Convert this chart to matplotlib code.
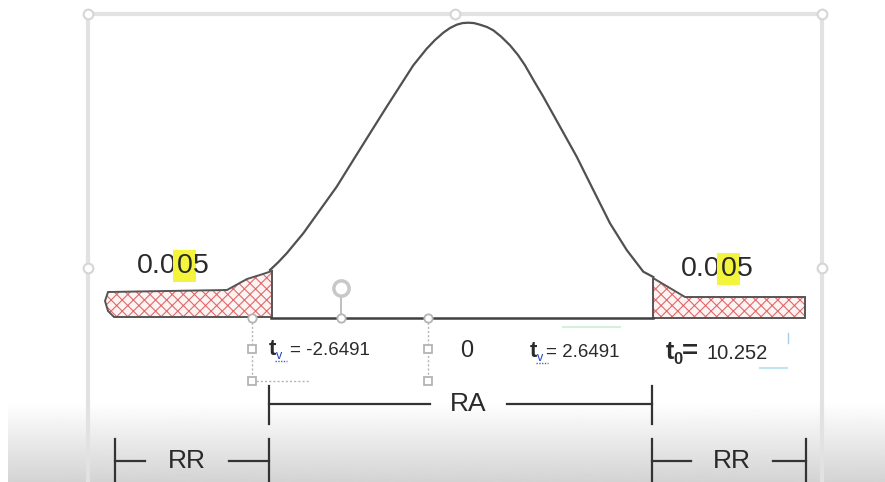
import numpy as np
import matplotlib
matplotlib.use("Agg")
import matplotlib.pyplot as plt
from matplotlib.patches import Polygon

plt.rcParams["hatch.linewidth"] = 0.8

# ---------------- data (diagram units = pixels of the 885x482 canvas) ----------------
curve_x = [270.0, 278.0, 286.7, 303.3, 320.0, 336.7, 353.3, 370.0, 386.7, 400.0,
           413.3, 426.7, 435.0, 443.3, 450.0, 456.7, 462.5, 468.3, 474.0, 480.0,
           487.0, 493.3, 501.0, 510.0, 518.0, 525.0, 534.0, 543.3, 560.0, 576.7,
           593.3, 610.0, 626.7, 643.3, 653.3]
curve_y = [270.0, 262.5, 253.3, 233.3, 210.0, 186.7, 160.0, 133.3, 106.7, 86.0,
           65.3, 48.7, 40.0, 32.7, 28.0, 24.7, 23.1, 22.7, 23.1, 24.7,
           27.0, 30.3, 36.5, 45.3, 55.0, 65.3, 81.0, 96.7, 126.7, 156.7,
           190.0, 223.3, 250.0, 271.7, 277.0]
base_y = 318
base_x = [271, 653]

left_tail_x = [272, 263, 247, 227, 108, 105, 108, 114, 272]
left_tail_y = [271, 274, 279, 290, 292, 301, 311, 317, 317]
right_tail_x = [653, 685, 805, 805, 653]
right_tail_y = [278, 297, 297, 318, 318]

alpha_label = ["0.0", "0", "5"]          # "0.005" with the second zero highlighted
alpha_pos = [(137, 273), (681, 276)]

t_crit_left = "= -2.6491"
t_crit_right = "= 2.6491"
center_label = "0"
t0_value = "10.252"

ra_range = [269, 652]
rr_left = [115, 269]
rr_right = [652, 806]

# ---------------- figure ----------------
fig = plt.figure(figsize=(8.85, 4.82), dpi=100)
ax = fig.add_axes([0, 0, 1, 1])
ax.set_xlim(0, 885)
ax.set_ylim(482, 0)
ax.axis("off")

FONT = "Liberation Sans"
DARK = "#2a2a2a"

# bottom gray gradient
grad = np.linspace(1.0, 0.83, 64).reshape(-1, 1)
ax.imshow(grad, cmap="gray", vmin=0, vmax=1, extent=(8, 885, 482, 402),
          aspect="auto", zorder=0)

# selection frame of the slide object
fcol = "#e2e2e2"
ax.plot([88, 88], [14, 482], color=fcol, lw=3, zorder=1)
ax.plot([822, 822], [14, 482], color=fcol, lw=3, zorder=1)
ax.plot([88, 822], [14, 14], color=fcol, lw=3, zorder=1)
ax.plot([88, 455, 822, 88, 822], [14, 14, 14, 268, 268], ls="none", marker="o",
        ms=7, mfc="white", mec="#d6d6d6", mew=1.5, zorder=2)

# tails (hatched)
for xs, ys in [(left_tail_x, left_tail_y), (right_tail_x, right_tail_y)]:
    pts = np.column_stack([xs, ys])
    ax.add_patch(Polygon(pts, closed=True, facecolor="#fdf3f3", edgecolor="#e06a6a",
                         hatch="xxx", lw=0, zorder=3))
    ax.add_patch(Polygon(pts, closed=True, facecolor="none", edgecolor="#555555",
                         lw=1.4, zorder=4))

# bell curve and baseline
ax.plot(curve_x, curve_y, color="#505050", lw=1.6, solid_joinstyle="round", zorder=5)
ax.plot(base_x, [base_y, base_y], color="#404040", lw=1.8, zorder=5)

# alpha labels with yellow highlight on one digit
for (x0, y0) in alpha_pos:
    t1 = ax.text(x0, y0, alpha_label[0], fontsize=20.5, family=FONT, color=DARK,
                 va="baseline", ha="left", zorder=6)
    t2 = ax.annotate(alpha_label[1], xy=(1, 0), xycoords=t1, va="bottom", ha="left",
                     fontsize=20.5, family=FONT, color=DARK, zorder=6,
                     bbox=dict(boxstyle="square,pad=0.12", fc="#f4f43c", ec="none"))
    ax.annotate(alpha_label[2], xy=(1, 0), xycoords=t2, va="bottom", ha="left",
                fontsize=20.5, family=FONT, color=DARK, zorder=6)

# text-box handles (left box)
hcol = "#b4b4b4"
ax.plot([252, 252], [318, 381], color=hcol, lw=1, ls=(0, (1.5, 1.5)), zorder=5)
ax.plot([428, 428], [318, 381], color=hcol, lw=1, ls=(0, (1.5, 1.5)), zorder=5)
ax.plot([252, 310], [381, 381], color=hcol, lw=1, ls=(0, (1.5, 1.5)), zorder=5)
ax.plot([252, 428, 341], [318, 318, 318], ls="none", marker="o", ms=6, mfc="white",
        mec=hcol, mew=1.3, zorder=6)
ax.plot([252, 428, 252, 428], [349, 349, 381, 381], ls="none", marker="s", ms=5.5,
        mfc="white", mec=hcol, mew=1.3, zorder=6)
ax.plot([341, 341], [296, 318], color=hcol, lw=1.2, zorder=5)
ax.plot([341], [288], marker="o", ms=11, mfc="white", mec="#c8c8c8", mew=2.5, zorder=6)

# t labels
ax.text(269, 355, "t", fontsize=16, family=FONT, weight="bold", color=DARK, va="baseline")
ax.text(276, 359, "v", fontsize=9, family=FONT, color="#2040c0", va="baseline")
ax.plot([275, 287], [361, 361], color="#4060d0", lw=1, ls=(0, (1, 1)))
ax.text(290, 355, t_crit_left, fontsize=13.5, family=FONT, color=DARK, va="baseline")

ax.text(460, 357, center_label, fontsize=17, family=FONT, color=DARK, va="baseline")

ax.text(530, 357, "t", fontsize=16, family=FONT, weight="bold", color=DARK, va="baseline")
ax.text(537, 361, "v", fontsize=9, family=FONT, color="#2040c0", va="baseline")
ax.plot([536, 548], [363, 363], color="#4060d0", lw=1, ls=(0, (1, 1)))
ax.text(546, 357, t_crit_right, fontsize=13.5, family=FONT, color=DARK, va="baseline")
ax.plot([563, 620], [327, 327], color="#d4f0da", lw=1.5)

ax.text(666, 359, "t", fontsize=18, family=FONT, weight="bold", color=DARK, va="baseline")
ax.text(673, 364, "0", fontsize=12, family=FONT, weight="bold", color=DARK, va="baseline")
ax.text(682, 359, "=", fontsize=20, family=FONT, weight="bold", color=DARK, va="baseline")
ax.text(707, 359, t0_value, fontsize=14.5, family=FONT, color=DARK, va="baseline")
ax.plot([760, 787], [368, 368], color="#bfe6ee", lw=1.5)
ax.plot([788, 788], [333, 343], color="#a8cce8", lw=1)

# region brackets
lc = "#333333"
def bracket(x0, x1, y, label, gap0, gap1, tick):
    ax.plot([x0, x0], [y - tick[0], y + tick[1]], color=lc, lw=1.6)
    ax.plot([x1, x1], [y - tick[0], y + tick[1]], color=lc, lw=1.6)
    ax.plot([x0, gap0], [y, y], color=lc, lw=1.6)
    ax.plot([gap1, x1], [y, y], color=lc, lw=1.6)
    ax.text((gap0 + gap1) / 2, y + 7, label, fontsize=19, family=FONT, color=DARK,
            ha="center", va="baseline")

bracket(ra_range[0], ra_range[1], 404, "RA", 430, 507, (18, 20))
bracket(rr_left[0], rr_left[1], 461, "RR", 145, 229, (22, 22))
bracket(rr_right[0], rr_right[1], 461, "RR", 691, 773, (22, 22))

fig.savefig("out.png", dpi=100)
